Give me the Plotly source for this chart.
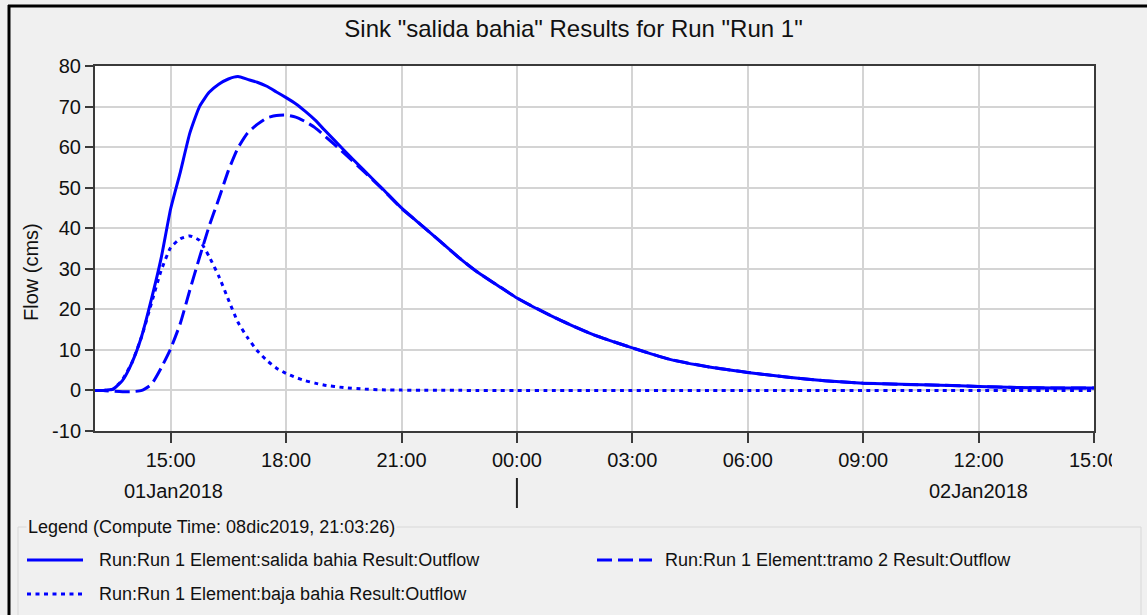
import plotly.graph_objects as go

# ---------------- data ----------------
times = [
    "2018-01-01 13:00", "2018-01-01 13:15", "2018-01-01 13:30", "2018-01-01 13:45",
    "2018-01-01 14:00", "2018-01-01 14:15", "2018-01-01 14:30", "2018-01-01 14:45",
    "2018-01-01 15:00", "2018-01-01 15:15", "2018-01-01 15:30", "2018-01-01 15:45",
    "2018-01-01 16:00", "2018-01-01 16:15", "2018-01-01 16:30", "2018-01-01 16:45",
    "2018-01-01 17:00", "2018-01-01 17:15", "2018-01-01 17:30", "2018-01-01 17:45",
    "2018-01-01 18:00", "2018-01-01 18:15", "2018-01-01 18:30", "2018-01-01 18:45",
    "2018-01-01 19:00", "2018-01-01 19:30", "2018-01-01 20:00", "2018-01-01 20:30",
    "2018-01-01 21:00", "2018-01-01 21:30", "2018-01-01 22:00", "2018-01-01 22:30",
    "2018-01-01 23:00", "2018-01-01 23:30", "2018-01-02 00:00", "2018-01-02 01:00",
    "2018-01-02 02:00", "2018-01-02 03:00", "2018-01-02 04:00", "2018-01-02 05:00",
    "2018-01-02 06:00", "2018-01-02 07:00", "2018-01-02 08:00", "2018-01-02 09:00",
    "2018-01-02 10:00", "2018-01-02 11:00", "2018-01-02 12:00", "2018-01-02 13:00",
    "2018-01-02 14:00", "2018-01-02 15:00",
]

salida_bahia = [
    0.0, 0.0, 0.3, 2.5,
    7.0, 13.5, 22.5, 32.5,
    44.8, 53.8, 63.5, 70.0,
    73.5, 75.5, 76.8, 77.4,
    76.7, 76.0, 75.0, 73.6,
    72.2, 70.7, 68.8, 66.7,
    64.2, 59.3, 54.5, 49.8,
    45.0, 40.9, 36.8, 32.7,
    29.0, 25.9, 22.8, 17.9,
    13.7, 10.5, 7.6, 5.8,
    4.45, 3.3, 2.4, 1.8,
    1.5, 1.3, 1.0, 0.7,
    0.6, 0.6,
]

tramo_2 = [
    0.0, 0.0, -0.2, -0.3,
    -0.3, 0.0, 1.5, 5.5,
    10.3, 16.5, 24.8, 32.8,
    40.5, 47.2, 54.2, 59.8,
    63.5, 65.6, 67.2, 67.8,
    67.9, 67.4, 66.3, 64.8,
    62.8, 58.6, 54.2, 49.7,
    44.9, 40.9, 36.8, 32.7,
    29.0, 25.9, 22.8, 17.9,
    13.7, 10.5, 7.6, 5.8,
    4.45, 3.3, 2.4, 1.8,
    1.5, 1.3, 1.0, 0.7,
    0.6, 0.6,
]

baja_bahia = [
    0.0, 0.0, 0.3, 2.7,
    7.0, 13.4, 21.5, 29.5,
    35.2, 37.4, 38.1, 37.0,
    33.0, 28.2, 22.4, 16.8,
    13.0, 9.8, 7.4, 5.5,
    4.2, 3.2, 2.4, 1.8,
    1.3, 0.7, 0.35, 0.15,
    0.08, 0.05, 0.03, 0.02,
    0.0, 0.0, 0.0, 0.0,
    0.0, 0.0, 0.0, 0.0,
    0.0, 0.0, 0.0, 0.0,
    0.0, 0.0, 0.0, 0.0,
    0.0, 0.0,
]

series_names = [
    "Run:Run 1 Element:salida bahia Result:Outflow",
    "Run:Run 1 Element:tramo 2 Result:Outflow",
    "Run:Run 1 Element:baja bahia Result:Outflow",
]

y_ticks = [-10, 0, 10, 20, 30, 40, 50, 60, 70, 80]
title_text = 'Sink "salida bahia" Results for Run "Run 1"'
y_title = "Flow (cms)"
legend_title = "Legend (Compute Time: 08dic2019, 21:03:26)"
date_labels = ["01Jan2018", "02Jan2018"]
date_label_pos = ["2018-01-01 15:00", "2018-01-02 12:00"]
day_break = "2018-01-02 00:00"

# ---------------- styling / layout ----------------
W, H = 1147, 615
ML, MR, MT, MB = 95, 53, 66, 184
PW, PH = W - ML - MR, H - MT - MB
BLUE = "#0000ff"
BG = "#f0f0f0"
FONT = "Liberation Sans"
DASH_LONG = "15px,6px"
DASH_DOT = "4px,4.5px"


def px(xp):
    return (xp - ML) / PW


def py(yp):
    return (H - MB - yp) / PH


fig = go.Figure()
styles = [("solid", salida_bahia), (DASH_LONG, tramo_2), (DASH_DOT, baja_bahia)]
for name, (dash, vals) in zip(series_names, styles):
    fig.add_trace(go.Scatter(
        x=times, y=vals, mode="lines", name=name,
        line=dict(color=BLUE, width=3, dash=dash, shape="spline", smoothing=0.5),
        showlegend=False,
    ))

axis_common = dict(
    showline=True, linewidth=2, linecolor="#3a3a3a", mirror=True,
    ticks="outside", tickwidth=2, tickcolor="#3a3a3a",
    showgrid=True, gridcolor="#d4d4d4", gridwidth=2,
    zeroline=False,
    tickfont=dict(family=FONT, size=20, color="#111111"),
)

fig.update_xaxes(
    type="date",
    range=["2018-01-01 13:02", "2018-01-02 15:00"],
    tick0="2018-01-01 00:00", dtick=3 * 3600000,
    tickformat="%H:%M", ticklen=10,
    **axis_common,
)
fig.update_yaxes(
    range=[-10, 80], tickmode="array", tickvals=y_ticks,
    ticktext=[str(v) for v in y_ticks], ticklen=8,
    **axis_common,
)

shapes = []
# outer window frame (top and left dark edges)
shapes.append(dict(type="line", xref="paper", yref="paper",
                   x0=px(8), x1=px(1147), y0=py(6), y1=py(6),
                   line=dict(color="#000000", width=3)))
shapes.append(dict(type="line", xref="paper", yref="paper",
                   x0=px(9), x1=px(9), y0=py(5), y1=py(620),
                   line=dict(color="#000000", width=3)))
# legend group box
shapes.append(dict(type="rect", xref="paper", yref="paper",
                   x0=px(18), x1=px(1141), y0=py(527), y1=py(625),
                   line=dict(color="#d8d8d8", width=1), fillcolor="rgba(0,0,0,0)"))
# day boundary tick
shapes.append(dict(type="line", xref="x", yref="paper",
                   x0=day_break, x1=day_break, y0=py(478), y1=py(508),
                   line=dict(color="#222222", width=2)))
# clip of the last tick label at the panel edge
shapes.append(dict(type="rect", xref="paper", yref="paper", layer="above",
                   x0=px(1112), x1=px(1150), y0=py(440), y1=py(476),
                   line=dict(width=0), fillcolor=BG))
# legend line samples
legend_rows = [(27, 83, 560, "solid"), (597, 652, 560, DASH_LONG), (27, 85, 594, DASH_DOT)]
for x0, x1, yy, dash in legend_rows:
    shapes.append(dict(type="line", xref="paper", yref="paper",
                       x0=px(x0), x1=px(x1), y0=py(yy), y1=py(yy),
                       line=dict(color=BLUE, width=3, dash=dash)))

annotations = []
annotations.append(dict(text=y_title, xref="paper", yref="paper",
                        x=px(31), y=py(272), textangle=-90, showarrow=False,
                        xanchor="center", yanchor="middle",
                        font=dict(family=FONT, size=20, color="#111111")))
for lab, pos, shift in zip(date_labels, date_label_pos, [3, 0]):
    annotations.append(dict(text=lab, xref="x", yref="paper", x=pos, y=py(491),
                            xshift=shift, showarrow=False, xanchor="center",
                            yanchor="middle",
                            font=dict(family=FONT, size=20, color="#111111")))
annotations.append(dict(text=legend_title, xref="paper", yref="paper",
                        x=px(26), y=py(527), showarrow=False, xanchor="left",
                        yanchor="middle", bgcolor=BG, borderpad=1,
                        font=dict(family=FONT, size=18, color="#111111")))
legend_text_pos = [(97, 560), (663, 560), (97, 594)]
for name, (xx, yy) in zip(series_names, legend_text_pos):
    annotations.append(dict(text=name, xref="paper", yref="paper",
                            x=px(xx), y=py(yy), showarrow=False, xanchor="left",
                            yanchor="middle",
                            font=dict(family=FONT, size=18, color="#111111")))

fig.update_layout(
    width=W, height=H,
    margin=dict(l=ML, r=MR, t=MT, b=MB, pad=0),
    paper_bgcolor=BG, plot_bgcolor="#ffffff",
    title=dict(text=title_text, x=0.5, xref="container", xanchor="center",
               y=1 - 29 / H, yref="container", yanchor="middle",
               font=dict(family=FONT, size=24, color="#111111")),
    shapes=shapes, annotations=annotations,
    showlegend=False,
)

fig.write_html(
    "out.html",
    config={"displayModeBar": False},
    post_script="document.body.style.margin='0';document.body.style.padding='0';",
)
